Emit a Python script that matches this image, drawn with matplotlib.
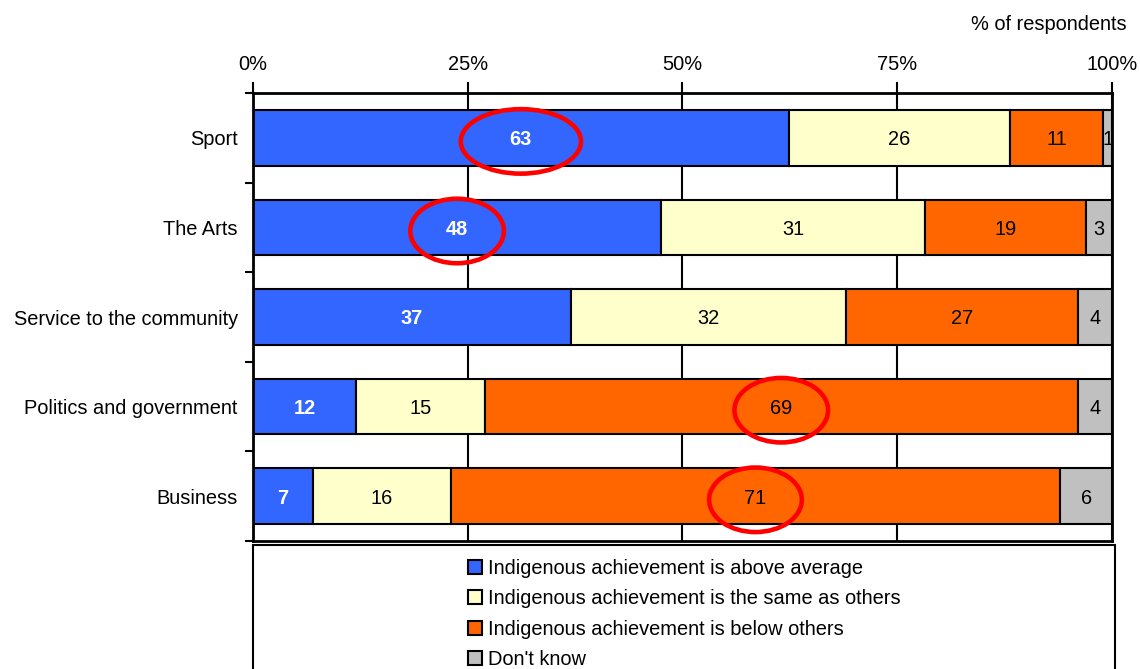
import matplotlib
matplotlib.use('Agg')
import matplotlib.pyplot as plt
from matplotlib.patches import Ellipse, Rectangle, Patch
import numpy as np

plt.rcParams['font.family'] = ['Liberation Sans', 'DejaVu Sans']

# data
categories = ['Sport', 'The Arts', 'Service to the community',
              'Politics and government', 'Business']
above = [63, 48, 37, 12, 7]
same = [26, 31, 32, 15, 16]
below = [11, 19, 27, 69, 71]
dont_know = [1, 3, 4, 4, 6]
series_names = ['Indigenous achievement is above average',
                'Indigenous achievement is the same as others',
                'Indigenous achievement is below others',
                "Don't know"]
colors = ['#3366FF', '#FFFFCC', '#FF6600', '#C0C0C0']
# circled values: (category index, series index, ellipse width in %)
circled = [(0, 0, 14.0), (1, 0, 10.9), (3, 2, 10.9), (4, 2, 10.8)]

FS = 14.4

values = np.array([above, same, below, dont_know], dtype=float)
shares = values / values.sum(axis=0) * 100   # bars are scaled to 100%
starts = np.vstack([np.zeros(len(categories)), np.cumsum(shares, axis=0)[:-1]])

fig = plt.figure(figsize=(11.4, 6.69), dpi=100)
ax = fig.add_axes([0.2219, 0.1913, 0.7535, 0.6697])

y = np.arange(len(categories))
for i in range(len(series_names)):
    ax.barh(y, shares[i], left=starts[i], height=0.62, color=colors[i],
            edgecolor='black', linewidth=1.5, zorder=2)
    for j in range(len(categories)):
        cx = starts[i][j] + shares[i][j] / 2
        if i == 0:
            ax.text(cx, y[j] + 0.02, '%d' % values[i][j], ha='center', va='center',
                    color='white', fontweight='bold', fontsize=FS, zorder=3)
        else:
            ax.text(cx, y[j] + 0.02, '%d' % values[i][j], ha='center', va='center',
                    color='black', fontsize=FS, zorder=3)

# red rings round the highlighted values
for j, i, w in circled:
    cx = starts[i][j] + shares[i][j] / 2
    ax.add_patch(Ellipse((cx, y[j] + 0.04), w, 0.72, fill=False,
                         edgecolor='#FF0000', linewidth=3.3, zorder=4, clip_on=False))

ax.set_xlim(0, 100)
ax.set_ylim(4.5, -0.5)

ax.xaxis.tick_top()
ax.set_xticks([0, 25, 50, 75, 100], ['0%', '25%', '50%', '75%', '100%'])
ax.tick_params(axis='x', length=8, width=1.5, pad=6, labelsize=FS)
ax.grid(axis='x', color='black', linewidth=1.5)
ax.set_axisbelow(True)

ax.set_yticks(y, categories)
ax.tick_params(axis='y', which='major', length=0, pad=11, labelsize=FS)
ax.set_yticks(np.arange(-0.5, 5, 1), minor=True)
ax.tick_params(axis='y', which='minor', length=6, width=1.5)

for sp in ax.spines.values():
    sp.set_linewidth(2)

fig.text(1127 / 1140, 1 - 25 / 669, '% of respondents', ha='right', va='center', fontsize=FS)

# legend box
fig.add_artist(Rectangle((253 / 1140, -0.05), 862 / 1140, 0.05 + (1 - 545 / 669),
                         transform=fig.transFigure, fill=False,
                         edgecolor='black', linewidth=1.5))
handles = [Patch(facecolor=c, edgecolor='black', linewidth=1.5) for c in colors]
fig.legend(handles, series_names, loc='upper left',
           bbox_to_anchor=(468 / 1140, 1 - 559 / 669), frameon=False, fontsize=FS,
           handlelength=0.7, handleheight=0.7, handletextpad=0.3,
           labelspacing=0.57, borderpad=0, borderaxespad=0)

fig.savefig('out.png', dpi=100)
